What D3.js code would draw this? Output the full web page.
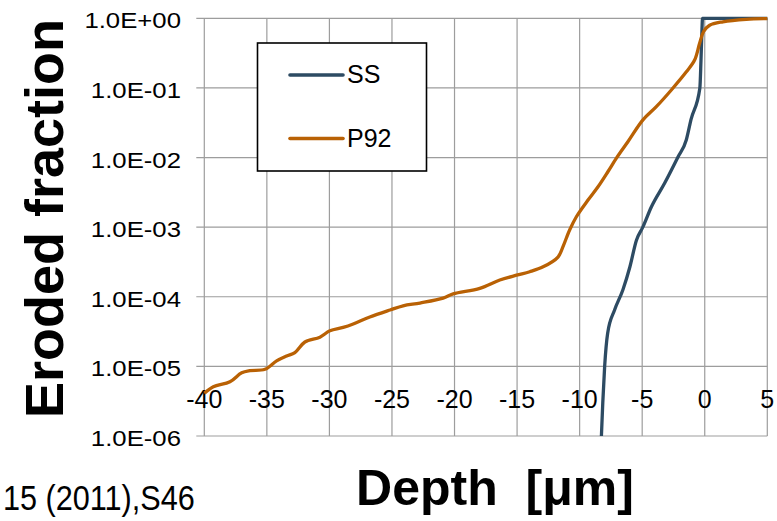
<!DOCTYPE html>
<html>
<head>
<meta charset="utf-8">
<script src="https://cdn.jsdelivr.net/npm/d3@7"></script>
<style>
  body { margin: 0; background: #fff; }
  text { font-family: Arial, "Liberation Sans", sans-serif; }
</style>
</head>
<body>
<svg id="graph" width="777" height="521"></svg>

<script type="text/javascript">
// depth in micrometers, eroded fraction
var ssDepth = [-8.26, -8.15, -8.0, -7.76, -7.2, -6.54, -5.98, -5.46, -4.95, -4.27, -3.2, -2.16, -1.47, -1.1, -0.39, -0.3, -0.22, -0.18, 5];
var ssFrac  = [1e-6, 3e-6, 1e-5, 3e-5, 6.5e-5, 1.26e-4, 2.7e-4, 6.5e-4, 1e-3, 1.95e-3, 4.3e-3, 1e-2, 1.8e-2, 3.5e-2, 1e-1, 2.5e-1, 7e-1, 1, 1];

var p92Depth = [-40, -39.28, -37.95, -37.01, -36.35, -35.15, -34.22, -33.42, -32.76, -31.96, -30.76, -29.96, -28.9, -28.1,
  -26.77, -25.15, -24.11, -22.76, -20.91, -20.11, -17.98, -16.38, -15.05, -13.99, -12.92, -11.73, -11.33, -10.8, -10.26,
  -9.33, -8.53, -7.73, -7.06, -6.13, -4.94, -3.87, -2.67, -1.47, -0.81, -0.41, -0.09, 0.39, 1.45, 3.32, 5];
var p92Frac = [4.1e-6, 5.1e-6, 6.0e-6, 8.1e-6, 8.7e-6, 9.1e-6, 1.2e-5, 1.41e-5, 1.58e-5, 2.24e-5, 2.63e-5, 3.24e-5, 3.63e-5, 4.07e-5,
  5.13e-5, 6.46e-5, 7.41e-5, 8.13e-5, 9.55e-5, 1.1e-4, 1.32e-4, 1.74e-4, 2.04e-4, 2.29e-4, 2.69e-4, 3.72e-4, 5.25e-4, 9.1e-4, 1.41e-3,
  2.45e-3, 3.8e-3, 6.3e-3, 9.8e-3, 1.7e-2, 3.47e-2, 5.37e-2, 9.33e-2, 0.17, 0.251, 0.437, 0.646, 0.794, 0.891, 0.968, 0.99];

var xTicks = [-40, -35, -30, -25, -20, -15, -10, -5, 0, 5];
var yTicks = [1e0, 1e-1, 1e-2, 1e-3, 1e-4, 1e-5, 1e-6];
var yTickLabels = ["1.0E+00", "1.0E-01", "1.0E-02", "1.0E-03", "1.0E-04", "1.0E-05", "1.0E-06"];

var seriesNames = ["SS", "P92"];
var colors = {"SS": "#2d4b63", "P92": "#b96104"};

var svg = d3.select("#graph");

var x = d3.scaleLinear().domain([-40, 5]).range([204.3, 767.3]);
var y = d3.scaleLog().domain([1e-6, 1]).range([436, 18.3]);

var grid = svg.append("g").attr("stroke", "#9d9d9d").attr("stroke-width", 1.2);

grid.selectAll(".vgrid").data(xTicks).enter().append("line")
  .attr("x1", function (d) { return x(d); })
  .attr("x2", function (d) { return x(d); })
  .attr("y1", y(1)).attr("y2", y(1e-6));

// horizontal grid plus the small outside ticks on the left
grid.selectAll(".hgrid").data(yTicks).enter().append("line")
  .attr("x1", x(-40) - 8).attr("x2", x(5))
  .attr("y1", function (d) { return y(d); })
  .attr("y2", function (d) { return y(d); });

svg.selectAll(".ylab").data(yTicks).enter().append("text")
  .attr("transform", function (d) { return "translate(181," + (y(d) + 10) + ") scale(1.17,1)"; })
  .attr("text-anchor", "end")
  .style("font-size", "22px")
  .text(function (d, i) { return yTickLabels[i]; });

// horizontal axis labels float above the bottom
svg.selectAll(".xlab").data(xTicks).enter().append("text")
  .attr("x", function (d) { return x(d); })
  .attr("y", 408)
  .attr("text-anchor", "middle")
  .style("font-size", "25px")
  .text(function (d) { return d; });

var ssLine = d3.line()
  .x(function (d) { return x(d[0]); })
  .y(function (d) { return y(d[1]); })
  .curve(d3.curveMonotoneX);

var p92Line = d3.line()
  .x(function (d) { return x(d[0]); })
  .y(function (d) { return y(d[1]); })
  .curve(d3.curveCatmullRom.alpha(0.5));

var ssData = d3.zip(ssDepth, ssFrac);
var p92Data = d3.zip(p92Depth, p92Frac);

svg.append("path")
  .datum(ssData)
  .style("fill", "none")
  .style("stroke", colors["SS"])
  .style("stroke-width", "3.3px")
  .style("stroke-linejoin", "round")
  .attr("d", ssLine);

svg.append("path")
  .datum(p92Data)
  .style("fill", "none")
  .style("stroke", colors["P92"])
  .style("stroke-width", "3.3px")
  .style("stroke-linejoin", "round")
  .attr("d", p92Line);

// legend
var legend = svg.append("g");
legend.append("rect")
  .attr("x", 257.5).attr("y", 43).attr("width", 169).attr("height", 128)
  .attr("fill", "#fff").attr("stroke", "#000").attr("stroke-width", 1.6);

seriesNames.forEach(function (name, i) {
  var ly = 75 + i * 63.5;
  legend.append("line")
    .attr("x1", 290).attr("x2", 343).attr("y1", ly).attr("y2", ly)
    .attr("stroke", colors[name]).attr("stroke-width", 3.6)
    .attr("stroke-linecap", "round");
  legend.append("text")
    .attr("x", 347).attr("y", ly + 8)
    .style("font-size", "25px")
    .text(name);
});

// axis titles
svg.append("text")
  .attr("transform", "translate(63,218.5) rotate(-90)")
  .attr("text-anchor", "middle")
  .style("font-size", "54px")
  .style("font-weight", "bold")
  .text("Eroded fraction");

svg.append("text")
  .attr("x", 495).attr("y", 505)
  .attr("text-anchor", "middle")
  .style("font-size", "50px")
  .style("font-weight", "bold")
  .style("white-space", "pre")
  .text("Depth  [\u03bcm]");

// cut-off citation on the left
svg.append("text")
  .attr("transform", "translate(3,510) scale(0.875,1)")
  .style("font-size", "35px")
  .text("15 (2011),S46");
</script>
</body>
</html>
